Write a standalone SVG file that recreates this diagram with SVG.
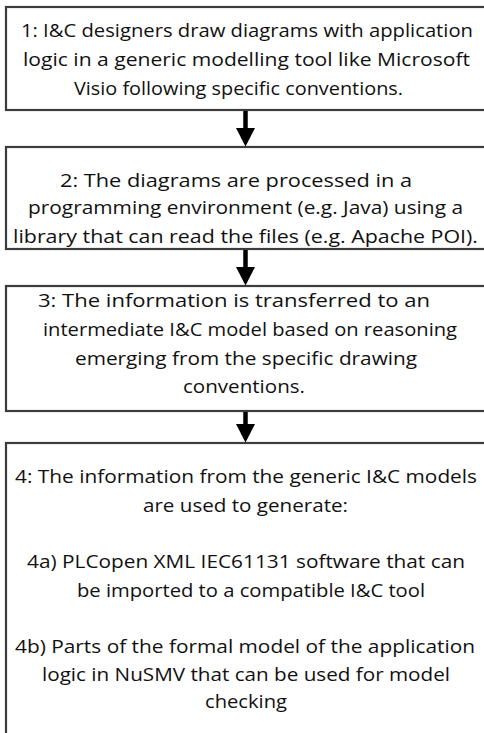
<svg xmlns="http://www.w3.org/2000/svg" width="484" height="733" viewBox="0 0 484 733">
  <style>
    .box { fill: #ffffff; stroke: #3c3c3c; stroke-width: 2.2; }
    .lbl { font-family: "Open Sans", "Liberation Sans", sans-serif; font-size: 18.5px; fill: #111111; }
    .flow { stroke: #000000; stroke-width: 4.5; fill: none; }
  </style>
  <defs>
    <marker id="head" markerUnits="userSpaceOnUse" markerWidth="19" markerHeight="19" refX="0" refY="9.5" orient="auto">
      <path d="M0,0 L18.5,9.5 L0,19 Z" fill="#000000"/>
    </marker>
  </defs>
  <rect width="484" height="733" fill="#ffffff"/>

  <g id="step1">
    <rect class="box" x="6" y="7" width="490" height="103"/>
    <text class="lbl" x="21" y="37" textLength="452" lengthAdjust="spacingAndGlyphs">1: I&amp;C designers draw diagrams with application</text>
    <text class="lbl" x="23" y="66" textLength="447" lengthAdjust="spacingAndGlyphs">logic in a generic modelling tool like Microsoft</text>
    <text class="lbl" x="74" y="95" textLength="329" lengthAdjust="spacingAndGlyphs">Visio following specific conventions.</text>
  </g>

  <g id="step2">
    <rect class="box" x="6" y="147" width="490" height="102"/>
    <text class="lbl" x="60" y="187" textLength="352" lengthAdjust="spacingAndGlyphs">2: The diagrams are processed in a</text>
    <text class="lbl" x="28" y="214" textLength="435" lengthAdjust="spacingAndGlyphs">programming environment (e.g. Java) using a</text>
    <text class="lbl" x="13" y="243" textLength="465" lengthAdjust="spacingAndGlyphs">library that can read the files (e.g. Apache POI).</text>
  </g>

  <g id="step3">
    <rect class="box" x="6" y="286" width="490" height="125"/>
    <text class="lbl" x="38" y="307" textLength="392" lengthAdjust="spacingAndGlyphs">3: The information is transferred to an</text>
    <text class="lbl" x="43" y="336" textLength="414" lengthAdjust="spacingAndGlyphs">intermediate I&amp;C model based on reasoning</text>
    <text class="lbl" x="75" y="365" textLength="342" lengthAdjust="spacingAndGlyphs">emerging from the specific drawing</text>
    <text class="lbl" x="183" y="393" textLength="122" lengthAdjust="spacingAndGlyphs">conventions.</text>
  </g>

  <g id="step4">
    <rect class="box" x="6" y="443" width="490" height="310"/>
    <text class="lbl" x="15" y="483" textLength="462" lengthAdjust="spacingAndGlyphs">4: The information from the generic I&amp;C models</text>
    <text class="lbl" x="143" y="512" textLength="205" lengthAdjust="spacingAndGlyphs">are used to generate:</text>
    <text class="lbl" x="27" y="568" textLength="438" lengthAdjust="spacingAndGlyphs">4a) PLCopen XML IEC61131 software that can</text>
    <text class="lbl" x="77" y="597" textLength="348" lengthAdjust="spacingAndGlyphs">be imported to a compatible I&amp;C tool</text>
    <text class="lbl" x="15" y="653" textLength="460" lengthAdjust="spacingAndGlyphs">4b) Parts of the formal model of the application</text>
    <text class="lbl" x="42" y="681" textLength="408" lengthAdjust="spacingAndGlyphs">logic in NuSMV that can be used for model</text>
    <text class="lbl" x="205" y="708" textLength="82" lengthAdjust="spacingAndGlyphs">checking</text>
  </g>

  <g id="connectors">
    <line class="flow" x1="245.5" y1="111" x2="245.5" y2="128" marker-end="url(#head)"/>
    <line class="flow" x1="245.5" y1="250" x2="245.5" y2="267" marker-end="url(#head)"/>
    <line class="flow" x1="245.5" y1="412" x2="245.5" y2="424" marker-end="url(#head)"/>
  </g>
</svg>
